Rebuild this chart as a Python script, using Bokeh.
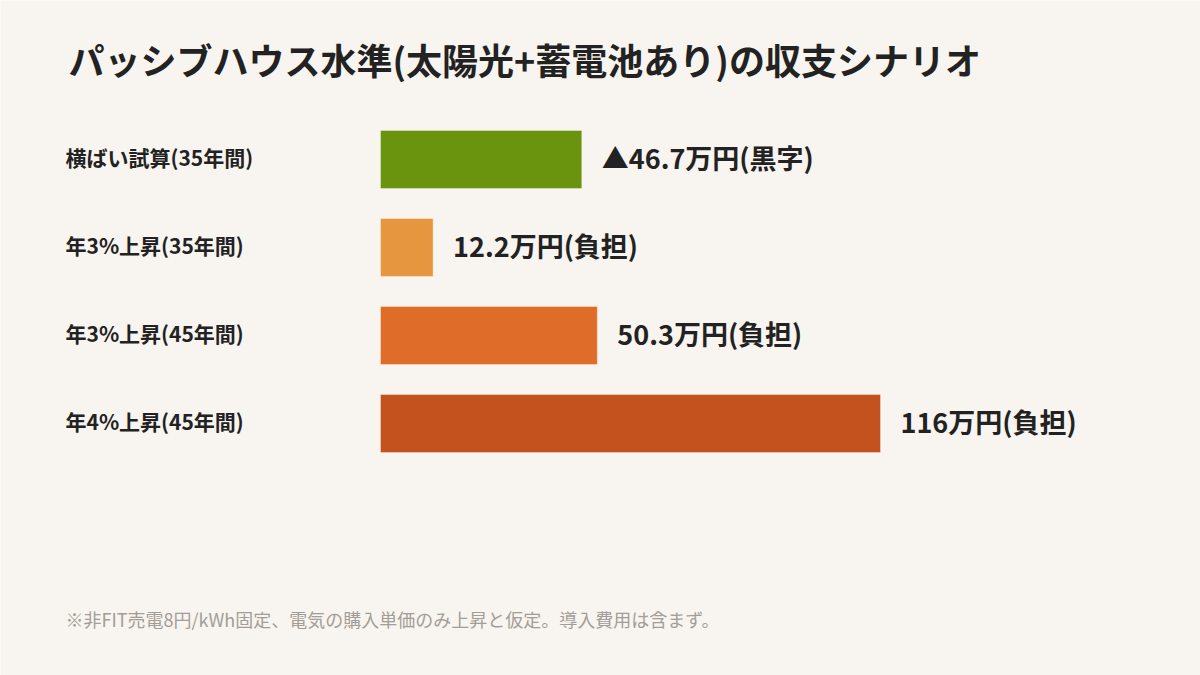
from bokeh.plotting import figure
from bokeh.models import Range1d, Label, ColumnDataSource
from bokeh.core.properties import value
from bokeh.embed import file_html
from bokeh.resources import INLINE

# ---- data ----
categories = ["横ばい試算(35年間)", "年3%上昇(35年間)", "年3%上昇(45年間)", "年4%上昇(45年間)"]
amounts = [46.7, 12.2, 50.3, 116.0]
value_labels = ["▲46.7万円(黒字)", "12.2万円(負担)", "50.3万円(負担)", "116万円(負担)"]
colors = ["#6A940E", "#E6963F", "#E06C29", "#C3521E"]
title_text = "パッシブハウス水準(太陽光+蓄電池あり)の収支シナリオ"
note_text = "※非FIT売電8円/kWh固定、電気の購入単価のみ上昇と仮定。導入費用は含まず。"

W, H = 1200, 675
BG = "#F8F4EF"
FONT = "Noto Sans CJK JP"

# scales: x in 万円, y in row index
px_per = 500 / 116.0
x0_page = 380
x_start = -x0_page / px_per
x_end = x_start + W / px_per

row_px = 88.0
first_center = 159
y_top = -first_center / row_px
y_bottom = y_top + H / row_px

p = figure(width=W, height=H, output_backend="svg", toolbar_location=None,
           x_range=Range1d(x_start, x_end), y_range=Range1d(y_bottom, y_top),
           min_border=0, outline_line_color=None, background_fill_color=BG,
           border_fill_color=BG)
p.axis.visible = False
p.grid.visible = False

rows = list(range(len(categories)))
src = ColumnDataSource(dict(y=rows, v=amounts, c=colors, cat=categories,
                            lab=value_labels, zero=[0] * len(rows)))

p.hbar(y="y", left=0, right="v", height=58 / row_px, fill_color="c",
       line_color="white", line_alpha=0.35, line_width=1, source=src)

p.text(x="zero", y="y", text="cat", source=src, x_offset=-(380 - 65), y_offset=-3,
       text_font=value(FONT), text_font_size="21px", text_font_style="bold",
       text_color="#222222", text_baseline="middle", text_align="left")

p.text(x="v", y="y", text="lab", source=src, x_offset=20, y_offset=-2,
       text_font=value(FONT), text_font_size="27px", text_font_style="bold",
       text_color="#222222", text_baseline="middle", text_align="left")

p.add_layout(Label(x=68, y=H - 58, x_units="screen", y_units="screen",
                   text=title_text, text_font=FONT, text_font_size="36px",
                   text_font_style="bold", text_color="#222222",
                   text_baseline="middle"))

p.add_layout(Label(x=65, y=H - 618, x_units="screen", y_units="screen",
                   text=note_text, text_font=FONT, text_font_size="18px",
                   text_color="#A39D97", text_baseline="middle"))

open("out.html", "w").write(file_html(p, INLINE))
